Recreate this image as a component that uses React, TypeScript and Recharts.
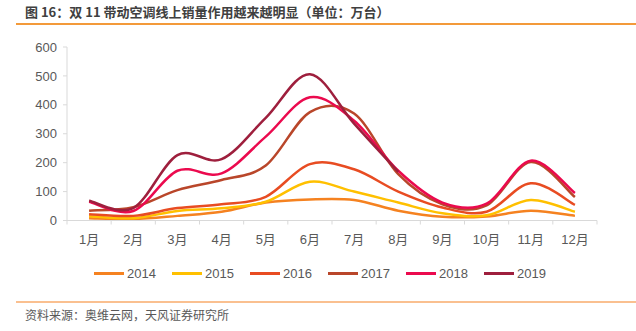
import { LineChart, Line, XAxis, YAxis } from "recharts";

const months = ["1月", "2月", "3月", "4月", "5月", "6月", "7月", "8月", "9月", "10月", "11月", "12月"];
const yTicks = [0, 100, 200, 300, 400, 500, 600];

const y2014 = [8, 5, 16, 30, 62, 73, 71, 34, 13, 14, 34, 16];
const y2015 = [15, 8, 33, 42, 65, 134, 100, 62, 25, 18, 71, 30];
const y2016 = [22, 16, 43, 56, 82, 195, 177, 100, 45, 30, 129, 54];
const y2017 = [34, 46, 105, 140, 190, 375, 370, 160, 56, 52, 202, 81];
const y2018 = [65, 33, 172, 163, 290, 426, 345, 172, 62, 58, 207, 95];
const y2019 = [68, 43, 226, 212, 355, 506, 335, 168, null, null, null, null];

const series = [
  { key: "2014", values: y2014, color: "#F58220" },
  { key: "2015", values: y2015, color: "#FFC000" },
  { key: "2016", values: y2016, color: "#E84C22" },
  { key: "2017", values: y2017, color: "#B9462A" },
  { key: "2018", values: y2018, color: "#EB0A4E" },
  { key: "2019", values: y2019, color: "#9E1F3D" },
];

const data = months.map((m, i) => {
  const row: Record<string, string | number | null> = { month: m };
  series.forEach((s) => (row[s.key] = s.values[i]));
  return row;
});

const FONT = '"Liberation Sans", "Noto Sans CJK SC", sans-serif';
const CJK = '"Noto Sans CJK SC", "Liberation Sans", sans-serif';

// excel-like smoothing (catmull-rom through the points)
function excelSmooth(context: any) {
  let pts: number[][] = [];
  return {
    areaStart() {},
    areaEnd() {},
    lineStart() {
      pts = [];
    },
    lineEnd() {
      const n = pts.length;
      if (!n) return;
      context.moveTo(pts[0][0], pts[0][1]);
      for (let i = 0; i < n - 1; i++) {
        const p0 = pts[i - 1] || pts[i];
        const p1 = pts[i];
        const p2 = pts[i + 1];
        const p3 = pts[i + 2] || p2;
        context.bezierCurveTo(
          p1[0] + (p2[0] - p0[0]) / 6,
          p1[1] + (p2[1] - p0[1]) / 6,
          p2[0] - (p3[0] - p1[0]) / 6,
          p2[1] - (p3[1] - p1[1]) / 6,
          p2[0],
          p2[1]
        );
      }
    },
    point(x: number, y: number) {
      pts.push([+x, +y]);
    },
  };
}

const CHART_W = 636;
const LEFT = 67;
const RIGHT_MARGIN = 39;
const BAND = (CHART_W - LEFT - RIGHT_MARGIN) / months.length;
const TICK_SIZE = 4;
const TICK_MARGIN = 10;

function MonthTick(props: any) {
  const { x, y, payload, index } = props;
  const axisY = y - TICK_SIZE - TICK_MARGIN;
  return (
    <g>
      <line x1={x - BAND / 2} x2={x - BAND / 2} y1={axisY} y2={axisY + 4} stroke="#D9D9D9" />
      {index === months.length - 1 && (
        <line x1={x + BAND / 2} x2={x + BAND / 2} y1={axisY} y2={axisY + 4} stroke="#D9D9D9" />
      )}
      <text x={x} y={y} dy="0.71em" textAnchor="middle" fill="#595959" fontSize={13} fontFamily={FONT}>
        {payload.value}
      </text>
    </g>
  );
}

export default function App() {
  return (
    <div style={{ position: "absolute", left: 0, top: 0, width: 636, height: 331, background: "#fff", overflow: "hidden" }}>
      <div style={{ position: "absolute", left: 25, top: 3, fontSize: 13, fontWeight: 700, color: "#404040", fontFamily: CJK, whiteSpace: "nowrap", lineHeight: "18px" }}>
        图 16：双 11 带动空调线上销量作用越来越明显（单位：万台）
      </div>
      <div style={{ position: "absolute", left: 16, right: 0, top: 23, height: 2, background: "#F39A3A" }} />

      <div style={{ position: "absolute", left: 0, top: 0 }}>
        <LineChart width={CHART_W} height={250} data={data} margin={{ top: 47, right: RIGHT_MARGIN, left: 0, bottom: 0 }}>
          <XAxis
            dataKey="month"
            height={29.5}
            padding={{ left: BAND / 2, right: BAND / 2 }}
            axisLine={{ stroke: "#D9D9D9" }}
            tickLine={false}
            tickSize={TICK_SIZE}
            tickMargin={TICK_MARGIN}
            interval={0}
            tick={<MonthTick />}
          />
          <YAxis
            width={LEFT}
            domain={[0, 600]}
            ticks={yTicks}
            axisLine={{ stroke: "#D9D9D9" }}
            tickLine={{ stroke: "#D9D9D9" }}
            tickSize={4}
            tickMargin={6}
            tick={{ fill: "#595959", fontSize: 13, fontFamily: FONT }}
          />
          {series.map((s) => (
            <Line
              key={s.key}
              dataKey={s.key}
              type={excelSmooth as any}
              stroke={s.color}
              strokeWidth={2.5}
              dot={false}
              isAnimationActive={false}
            />
          ))}
        </LineChart>
      </div>

      <div style={{ position: "absolute", left: 94, top: 264, display: "flex", fontFamily: FONT, fontSize: 13, color: "#595959" }}>
        {series.map((s) => (
          <div key={s.key} style={{ display: "flex", alignItems: "center", width: 78, height: 18 }}>
            <div style={{ width: 30, height: 3, background: s.color, marginRight: 3 }} />
            <span>{s.key}</span>
          </div>
        ))}
      </div>

      <div style={{ position: "absolute", left: 16, right: 0, top: 301, height: 2, background: "#FAC090" }} />
      <div style={{ position: "absolute", left: 25, top: 307, fontSize: 12, color: "#595959", fontFamily: CJK, whiteSpace: "nowrap", lineHeight: "16px" }}>
        资料来源：奥维云网，天风证券研究所
      </div>
    </div>
  );
}
